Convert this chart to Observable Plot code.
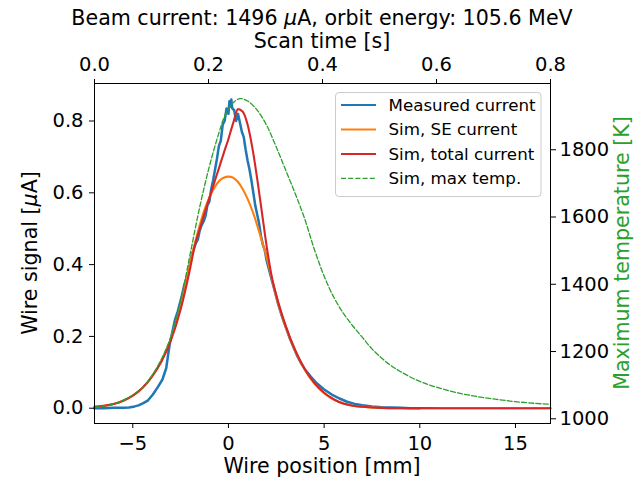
<!DOCTYPE html>
<html>
<head>
<meta charset="utf-8">
<script src="https://cdn.jsdelivr.net/npm/d3@7"></script>
<script src="https://cdn.jsdelivr.net/npm/@observablehq/plot@0.6"></script>
<style>
  html, body { margin: 0; padding: 0; background: #fff; }
  svg { display: block; }
</style>
</head>
<body>
<div id="chart"></div>
<script>
// ---- Measured current (wire position mm, signal µA) ----
const measuredPos = [-7,-6.5,-6,-5.5,-5.2,-4.9,-4.7,-4.45,-4.2,-3.95,-3.7,-3.45,-3.25,-3.15,-3.05,-2.9,-2.8,-2.65,-2.45,-2.3,-2.15,-2.0,-1.9,-1.8,-1.7,-1.6,-1.5,-1.4,-1.3,-1.2,-1.1,-1.0,-0.9,-0.8,-0.7,-0.6,-0.5,-0.4,-0.3,-0.2,-0.1,0.0,0.05,0.1,0.15,0.2,0.3,0.4,0.5,0.6,0.7,0.8,0.9,1.0,1.1,1.2,1.3,1.4,1.5,1.6,1.7,1.8,1.9,2.0,2.2,2.4,2.6,2.8,3.0,3.2,3.4,3.6,3.8,4.0,4.3,4.6,5.0,5.4,5.8,6.2,6.6,7.0,7.5,8.0,8.5,9.0,9.5,10.0];
const measuredVal = [0.0,0.0,0.001,0.001,0.002,0.005,0.008,0.014,0.022,0.038,0.058,0.08,0.112,0.15,0.185,0.22,0.245,0.27,0.31,0.345,0.37,0.405,0.43,0.445,0.46,0.47,0.495,0.51,0.52,0.535,0.565,0.575,0.61,0.635,0.665,0.695,0.73,0.745,0.79,0.8,0.835,0.82,0.855,0.84,0.86,0.835,0.83,0.8,0.82,0.795,0.77,0.755,0.72,0.69,0.665,0.635,0.6,0.565,0.54,0.515,0.48,0.455,0.44,0.41,0.37,0.33,0.29,0.255,0.225,0.195,0.17,0.145,0.125,0.108,0.088,0.07,0.052,0.038,0.027,0.018,0.012,0.008,0.005,0.003,0.002,0.001,0.0,0.0];

// ---- Simulated currents ----
const simPos   = [-7,-6.5,-6,-5.5,-5,-4.5,-4,-3.5,-3,-2.5,-2,-1.75,-1.5,-1.25,-1,-0.75,-0.5,-0.25,0,0.25,0.5,0.75,1,1.25,1.5,1.75,2,2.25,2.5,3,3.5,4,4.5,5,5.5,6,6.5,7,8,9,10,12,14,16.83];
const seVal    = [0.004,0.007,0.012,0.021,0.035,0.056,0.088,0.132,0.195,0.285,0.405,0.46,0.51,0.553,0.587,0.613,0.632,0.642,0.645,0.642,0.63,0.61,0.583,0.55,0.51,0.465,0.42,0.365,0.31,0.225,0.158,0.106,0.068,0.042,0.024,0.013,0.007,0.004,0.001,0.0003,0.0001,0,0,0];
const totalVal = [0.004,0.007,0.012,0.021,0.035,0.056,0.088,0.13,0.19,0.275,0.39,0.455,0.50,0.543,0.585,0.627,0.668,0.71,0.75,0.795,0.833,0.826,0.79,0.725,0.64,0.545,0.45,0.37,0.315,0.228,0.16,0.108,0.07,0.043,0.025,0.013,0.007,0.004,0.001,0.0003,0.0001,0,0,0];

// ---- Simulated max temperature (K) ----
const tempPos = [-7,-6.5,-6,-5.5,-5,-4.5,-4,-3.5,-3,-2.5,-2,-1.5,-1,-0.5,-0.25,0,0.25,0.6,1,1.5,2,2.5,3,3.5,4,4.5,5,5.5,6,6.5,7,7.5,8,8.5,9,10,11,12,13,14,15,16,16.83];
const tempVal = [1034,1038,1044,1055,1070,1092,1128,1178,1245,1350,1490,1630,1750,1850,1893,1922,1940,1952,1945,1918,1872,1808,1738,1668,1592,1502,1424,1362,1314,1276,1242,1208,1181,1158,1140,1111,1092,1077,1066,1058,1051,1046,1043];

// ---- Axes ----
const xTicks = [-5, 0, 5, 10, 15];
const yTicks = [0.0, 0.2, 0.4, 0.6, 0.8];
const tempTicks = [1000, 1200, 1400, 1600, 1800];
const timeTicks = [0.0, 0.2, 0.4, 0.6, 0.8];
const xDomain = [-7, 16.83];
const yDomain = [-0.0426, 0.9045];
const tempDomain = [986, 1997];
const timeDomain = [0, 0.8];

const seriesNames = ["Measured current", "Sim, SE current", "Sim, total current", "Sim, max temp."];
const seriesColors = ["#1f77b4", "#ff7f0e", "#d62728", "#2ca02c"];

// twin-axis mappings onto the shared scales
const tToY = t => yDomain[0] + (t - tempDomain[0]) * (yDomain[1] - yDomain[0]) / (tempDomain[1] - tempDomain[0]);
const timeToX = s => xDomain[0] + (s - timeDomain[0]) * (xDomain[1] - xDomain[0]) / (timeDomain[1] - timeDomain[0]);

const measured = measuredPos.map((p, i) => ({pos: p, v: measuredVal[i]}));
const se = simPos.map((p, i) => ({pos: p, v: seVal[i]}));
const total = simPos.map((p, i) => ({pos: p, v: totalVal[i]}));
const temp = tempPos.map((p, i) => ({pos: p, v: tToY(tempVal[i])}));

const FS = 19.5;   // tick labels
const LS = 20.6;   // titles / axis labels
const fmtSigned = d => d < 0 ? "\u2212" + Math.abs(d) : String(d);
const fmtTime = d => { const t = timeTicks.find(s => Math.abs(timeToX(s) - d) < 1e-6); return t.toFixed(1); };
const fmtTemp = d => { const t = tempTicks.find(s => Math.abs(tToY(s) - d) < 1e-9); return String(t); };

const W = 635, H = 479, mL = 94, mR = 85, mT = 83, mB = 56;

const chart = Plot.plot({
  width: W, height: H,
  marginLeft: mL, marginRight: mR, marginTop: mT, marginBottom: mB,
  style: {fontFamily: "DejaVu Sans", fontSize: FS + "px", color: "#000", background: "#fff", overflow: "visible"},
  x: {domain: xDomain, label: null},
  y: {domain: yDomain, label: null},
  marks: [
    Plot.line(measured, {x: "pos", y: "v", stroke: seriesColors[0], strokeWidth: 2.5, strokeLinejoin: "round"}),
    Plot.line(se, {x: "pos", y: "v", stroke: seriesColors[1], strokeWidth: 2.1, curve: "monotone-x"}),
    Plot.line(total, {x: "pos", y: "v", stroke: seriesColors[2], strokeWidth: 2.1, curve: "monotone-x"}),
    Plot.line(temp, {x: "pos", y: "v", stroke: seriesColors[3], strokeWidth: 1.3, strokeDasharray: "5,2.2", curve: "catmull-rom"}),
    Plot.frame({stroke: "#000", strokeWidth: 1}),
    Plot.axisX({ticks: xTicks, tickFormat: fmtSigned, tickSize: 5, tickPadding: 8, label: null, fontSize: FS}),
    Plot.axisX({anchor: "top", ticks: timeTicks.map(timeToX), tickFormat: fmtTime, tickSize: 5, tickPadding: 8, label: null, fontSize: FS}),
    Plot.axisY({ticks: yTicks, tickFormat: d => d.toFixed(1), tickSize: 5, tickPadding: 6, label: null, fontSize: FS}),
    Plot.axisY({anchor: "right", ticks: tempTicks.map(tToY), tickFormat: fmtTemp, tickSize: 5, tickPadding: 4, label: null, fontSize: FS})
  ]
});

document.getElementById("chart").appendChild(chart);

// ---- titles and axis labels ----
const svg = d3.select(chart);
const cx = (mL + (W - mR)) / 2, cy = (mT + (H - mB)) / 2;
function label(x, y, rot, parts, fill, size) {
  const t = svg.append("text")
    .attr("transform", `translate(${x},${y})` + (rot ? ` rotate(${rot})` : ""))
    .attr("text-anchor", "middle")
    .attr("font-family", "DejaVu Sans")
    .attr("font-size", size)
    .attr("fill", fill);
  parts.forEach(p => {
    const s = t.append("tspan").text(p.t);
    if (p.i) s.attr("font-style", "italic");
  });
  return t;
}
label(cx, 25, 0, [{t: "Beam current: 1496 "}, {t: "\u03bc", i: true}, {t: "A, orbit energy: 105.6 MeV"}], "#000", LS);
label(cx, 48, 0, [{t: "Scan time [s]"}], "#000", LS);
label(cx, 473, 0, [{t: "Wire position [mm]"}], "#000", LS);
label(37, cy, -90, [{t: "Wire signal ["}, {t: "\u03bc", i: true}, {t: "A]"}], "#000", LS);
label(629, cy, -90, [{t: "Maximum temperature [K]"}], "#2ca02c", LS);

// ---- legend ----
const LF = 16.7;
const lg = svg.append("g");
lg.append("rect").attr("x", 335.5).attr("y", 92.5).attr("width", 205.5).attr("height", 104)
  .attr("rx", 3.5).attr("fill", "#fff").attr("fill-opacity", 0.8).attr("stroke", "#cccccc").attr("stroke-width", 1);
const rowY = [105, 129.5, 154, 178.3];
seriesNames.forEach((name, i) => {
  const ln = lg.append("line").attr("x1", 341).attr("x2", 376).attr("y1", rowY[i]).attr("y2", rowY[i])
    .attr("stroke", seriesColors[i]).attr("stroke-width", i === 3 ? 1.3 : 2.1);
  if (i === 3) ln.attr("stroke-dasharray", "5,2.2");
  lg.append("text").attr("x", 388.5).attr("y", rowY[i] + 5.8).attr("text-anchor", "start")
    .attr("font-family", "DejaVu Sans").attr("font-size", LF).attr("fill", "#000").text(name);
});
</script>
</body>
</html>
